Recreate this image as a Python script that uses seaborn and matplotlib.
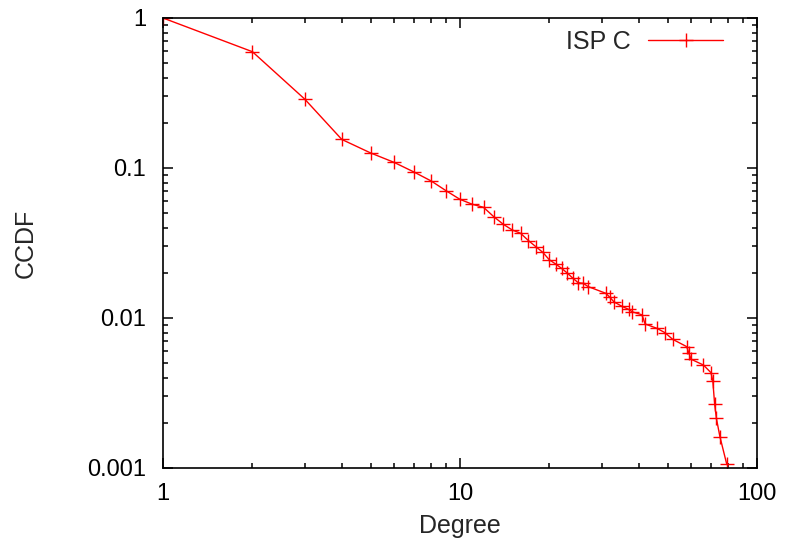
import matplotlib
matplotlib.use('Agg')
import matplotlib.pyplot as plt
import matplotlib.ticker as mticker
import seaborn as sns
import pandas as pd

# Data
degree = [1, 2, 3, 4, 5, 6, 7, 8, 9, 10, 11, 12, 13, 14, 15, 16, 17, 18, 19, 20,
          21, 22, 23, 24, 25, 26, 27, 31, 32, 33, 35, 37, 38, 41, 42, 46, 49, 52,
          58, 59, 60, 66, 70, 71, 72, 73, 75, 79]
ccdf = [1, 0.596, 0.288, 0.155, 0.126, 0.109, 0.094, 0.0819, 0.0703, 0.0618,
        0.0573, 0.0547, 0.0473, 0.0421, 0.0386, 0.0367, 0.0328, 0.0299, 0.0274, 0.0244,
        0.0229, 0.0214, 0.0199, 0.0184, 0.0172, 0.0170, 0.0162,
        0.0146, 0.0137, 0.0128, 0.0120, 0.0114, 0.0110, 0.0105, 0.00912, 0.00854,
        0.00798, 0.00721, 0.00644, 0.00582, 0.00531, 0.00486, 0.00432, 0.0038,
        0.00267, 0.00214, 0.00162, 0.00107]
series_name = 'ISP C'

x_ticks = [1, 10, 100]
x_tick_labels = ['1', '10', '100']
y_ticks = [0.001, 0.01, 0.1, 1]
y_tick_labels = ['0.001', '0.01', '0.1', '1']

df = pd.DataFrame({'Degree': degree, 'CCDF': ccdf})

sns.set_style('ticks')
plt.rcParams['font.family'] = ['Liberation Sans', 'DejaVu Sans']
plt.rcParams['font.size'] = 17

fig = plt.figure(figsize=(7.86, 5.53), dpi=100)
ax = fig.add_axes([163 / 786, 1 - 468 / 553, 594 / 786, 450 / 553])

sns.lineplot(data=df, x='Degree', y='CCDF', ax=ax, color='red', linewidth=1,
             marker='+', markersize=10, markeredgewidth=1, markeredgecolor='red',
             estimator=None, sort=False, label=series_name)

ax.set_xscale('log')
ax.set_yscale('log')
ax.set_xlim(1, 100)
ax.set_ylim(0.001, 1)

ax.xaxis.set_major_locator(mticker.FixedLocator(x_ticks))
ax.xaxis.set_major_formatter(mticker.FixedFormatter(x_tick_labels))
ax.yaxis.set_major_locator(mticker.FixedLocator(y_ticks))
ax.yaxis.set_major_formatter(mticker.FixedFormatter(y_tick_labels))
ax.xaxis.set_minor_locator(mticker.LogLocator(base=10, subs=range(2, 10)))
ax.yaxis.set_minor_locator(mticker.LogLocator(base=10, subs=range(2, 10)))
ax.xaxis.set_minor_formatter(mticker.NullFormatter())
ax.yaxis.set_minor_formatter(mticker.NullFormatter())

ax.tick_params(which='both', direction='in', top=True, right=True, width=1.1, colors='black')
ax.tick_params(which='major', length=7)
ax.tick_params(which='minor', length=3.5)
ax.tick_params(axis='x', which='major', pad=11, labelsize=17)
ax.tick_params(axis='y', which='major', pad=12, labelsize=17)

for s in ax.spines.values():
    s.set_visible(True)
    s.set_linewidth(1.2)
    s.set_color('black')

ax.set_xlabel('Degree', fontsize=18, labelpad=6)
ax.set_ylabel('CCDF', fontsize=18, labelpad=36)

ax.legend(loc='center right', bbox_to_anchor=((723 - 163) / 594, (468 - 42) / 450),
          frameon=False, markerfirst=False, handlelength=3.0, handletextpad=0.7,
          borderpad=0, borderaxespad=0, fontsize=18)

fig.savefig('out.png', dpi=100)
